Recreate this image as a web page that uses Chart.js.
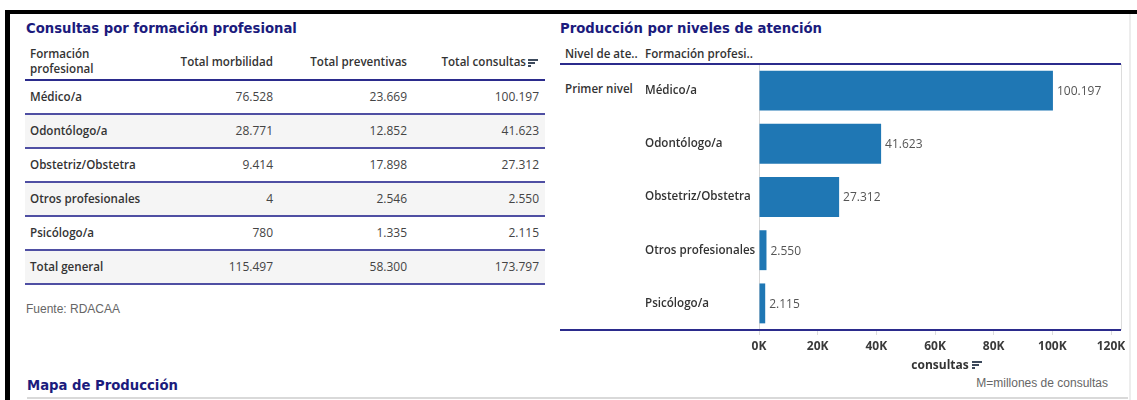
<!DOCTYPE html>
<html><head><meta charset="utf-8">
<script src="https://cdn.jsdelivr.net/npm/chart.js@4.4.0/dist/chart.umd.min.js"></script>
<style>
html,body{margin:0;padding:0;background:#fff;}
body{width:1137px;height:400px;position:relative;overflow:hidden;font-family:"Open Sans",sans-serif;}
.abs{position:absolute;}
.title{font-family:"DejaVu Sans Condensed","DejaVu Sans",sans-serif;font-weight:bold;font-size:14.7px;color:#1b1b7d;white-space:nowrap;line-height:18px;}
.lbl{font-weight:600;font-size:11.6px;color:#333;white-space:nowrap;line-height:16px;}
.num{font-size:12px;color:#444;white-space:nowrap;line-height:16px;text-align:right;width:160px;}
.note{font-family:"Liberation Sans",Arial,sans-serif;font-size:12px;color:#666;white-space:nowrap;line-height:14px;}
.sort div{position:absolute;height:2px;background:#3d4a5c;left:0;}
</style></head><body>
<div class="abs" style="left:5px;top:10px;width:1132px;height:4px;background:#000"></div>
<div class="abs" style="left:5px;top:10px;width:5px;height:390px;background:#000"></div>
<div class="abs" style="left:1129px;top:14px;width:2px;height:386px;background:#ededed"></div>
<div class="abs" style="left:27px;top:397px;width:1101px;height:2px;background:#d9d9d9"></div>

<div class="abs title" style="left:26px;top:19px">Consultas por formación profesional</div>
<div id="table"></div>
<div class="abs note" style="left:26px;top:302px">Fuente: RDACAA</div>
<div class="abs title" style="left:27px;top:376px">Mapa de Producción</div>

<div class="abs title" style="left:560px;top:19px">Producción por niveles de atención</div>
<div id="rightHead"></div>
<div class="abs" style="left:645px;top:64px;width:480px;height:310px"><canvas id="c"></canvas></div>
<div class="abs" style="left:560px;top:63px;width:561px;height:2px;background:#2b2b8c"></div>
<div class="abs" style="left:560px;top:329px;width:561px;height:2px;background:#2b2b8c"></div>
<div class="abs" style="left:1121px;top:64px;width:1px;height:266px;background:#dcdcdc"></div>
<div class="abs note" style="left:948px;top:376px;width:160px;text-align:right">M=millones de consultas</div>

<script>
const categories = ['Médico/a','Odontólogo/a','Obstetriz/Obstetra','Otros profesionales','Psicólogo/a'];
const totalMorbilidad = [76528, 28771, 9414, 4, 780];
const totalPreventivas = [23669, 12852, 17898, 2546, 1335];
const totalConsultas = [100197, 41623, 27312, 2550, 2115];
const tableHeaders = ['Formación<br>profesional','Total morbilidad','Total preventivas','Total consultas'];
const totalLabel = 'Total general';
const levelHeaders = ['Nivel de ate..','Formación profesi..'];
const levelName = 'Primer nivel';
const axisTitle = 'consultas';
const xTickValues = [0, 20000, 40000, 60000, 80000, 100000, 120000];
const xMax = 123400;

function fmt(n){return String(n).replace(/\B(?=(\d{3})+(?!\d))/g,'.');}
function sum(a){return a.reduce((s,v)=>s+v,0);}

function sortIcon(x,y){
  return '<div class="abs sort" style="left:'+x+'px;top:'+y+'px;width:10px;height:9px">'+
    '<div style="top:0;width:10px"></div><div style="top:3px;width:7px"></div><div style="top:6px;width:3px"></div></div>';
}

(function(){
  const colRight = [273, 407, 526];
  const numRight = [273, 407, 539];
  let h = '';
  h += '<div class="abs lbl" style="left:30px;top:46px;line-height:15px">'+tableHeaders[0]+'</div>';
  for (let c=1;c<4;c++) h += '<div class="abs lbl" style="left:'+(colRight[c-1]-160)+'px;top:54px;width:160px;text-align:right">'+tableHeaders[c]+'</div>';
  h += sortIcon(528,59);
  h += '<div class="abs" style="left:25px;top:79px;width:520px;height:2px;background:#2b2b8c"></div>';
  const rows = categories.map((c,i)=>[c,totalMorbilidad[i],totalPreventivas[i],totalConsultas[i]]);
  rows.push([totalLabel,sum(totalMorbilidad),sum(totalPreventivas),sum(totalConsultas)]);
  rows.forEach((r,i)=>{
    const top = 81 + i*34;
    if (i%2===1) h += '<div class="abs" style="left:25px;top:'+top+'px;width:520px;height:32px;background:#f5f5f5"></div>';
    h += '<div class="abs lbl" style="left:30px;top:'+(top+8)+'px">'+r[0]+'</div>';
    for (let c=1;c<4;c++) h += '<div class="abs num" style="left:'+(numRight[c-1]-160)+'px;top:'+(top+8)+'px">'+fmt(r[c])+'</div>';
    h += '<div class="abs" style="left:25px;top:'+(top+32)+'px;width:520px;height:2px;background:#4f4fa3"></div>';
  });
  document.getElementById('table').innerHTML = h;
  let rh = '';
  rh += '<div class="abs lbl" style="left:565px;top:46px">'+levelHeaders[0]+'</div>';
  rh += '<div class="abs lbl" style="left:645px;top:46px">'+levelHeaders[1]+'</div>';
  rh += '<div class="abs lbl" style="left:565px;top:81px">'+levelName+'</div>';
  rh += sortIcon(972,361);
  document.getElementById('rightHead').innerHTML = rh;
})();

const valueLabels = {
  id:'valueLabels',
  afterDatasetsDraw(chart){
    const ctx = chart.ctx, meta = chart.getDatasetMeta(0), data = chart.data.datasets[0].data;
    ctx.save();
    ctx.font = '12px "Open Sans"';
    ctx.fillStyle = '#555';
    ctx.textBaseline = 'middle';
    ctx.textAlign = 'left';
    meta.data.forEach((bar,i)=>ctx.fillText(fmt(data[i]), bar.x+4, bar.y+1));
    ctx.restore();
  }
};

new Chart(document.getElementById('c'), {
  type:'bar',
  data:{labels:categories, datasets:[{data:totalConsultas, backgroundColor:'#1f77b4', borderWidth:0, barPercentage:0.75, categoryPercentage:1}]},
  options:{
    indexAxis:'y', responsive:true, maintainAspectRatio:false, animation:false, devicePixelRatio:1,
    layout:{padding:{left:0,right:4,top:0,bottom:0}},
    plugins:{legend:{display:false}, tooltip:{enabled:false}},
    scales:{
      x:{
        min:0, max:xMax,
        afterBuildTicks:s=>{s.ticks = xTickValues.map(v=>({value:v}));},
        ticks:{autoSkip:false, maxRotation:0, minRotation:0, padding:4, color:'#3a3a3a', font:{family:'Open Sans', size:12, weight:'bold'},
          callback:v=>(v/1000)+'K'},
        grid:{display:true, drawOnChartArea:false, drawTicks:true, tickLength:5, color:'#dddddd'},
        border:{display:false},
        title:{display:true, text:axisTitle, color:'#333', font:{family:'Open Sans', size:12, weight:'bold'}, padding:{top:0,bottom:1}},
        afterFit:s=>{s.height=44; s.paddingLeft=0; s.paddingRight=0;}
      },
      y:{
        ticks:{crossAlign:'far', color:'#333', font:{family:'Open Sans', size:11.6, weight:'600'}},
        grid:{display:false},
        border:{display:true, color:'#d6d6d6', width:1},
        afterFit:s=>{s.width=114; s.paddingTop=0; s.paddingBottom=0;}
      }
    }
  },
  plugins:[valueLabels]
});
</script>
</body></html>
